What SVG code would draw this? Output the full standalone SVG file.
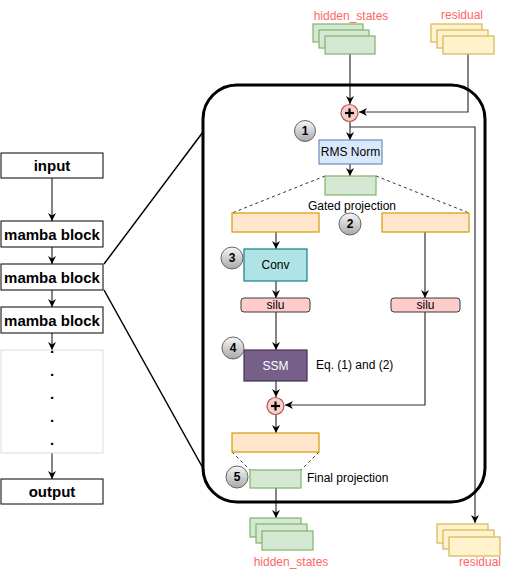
<svg xmlns="http://www.w3.org/2000/svg" width="516" height="579" viewBox="0 0 516 579">
<style>
text{font-family:"Liberation Sans",Arial,Helvetica,sans-serif;}
.lbl{font-size:15px;font-weight:bold;fill:#000;text-anchor:middle;dominant-baseline:central;}
.t12{font-size:12px;fill:#000;dominant-baseline:central;}
.mid{text-anchor:middle;}
.red{font-size:12px;fill:#ff6666;text-anchor:middle;dominant-baseline:central;}
.box{fill:#fff;stroke:#000;stroke-width:1;}
.conn{fill:none;stroke:#333;stroke-width:1.2;}
.dash{fill:none;stroke:#333;stroke-width:1;stroke-dasharray:3 3;}
.green{fill:#d5e8d4;stroke:#82b366;stroke-width:1.2;}
.yellow{fill:#fff2cc;stroke:#d6b656;stroke-width:1.2;}
.orange{fill:#ffe6cc;stroke:#d79b00;stroke-width:1.2;}
.silu{fill:#ffcccc;stroke:#36393d;stroke-width:1;}
.badge{fill:url(#bg);stroke:#666;stroke-width:1;}
.bnum{font-size:12px;font-weight:bold;fill:#000;text-anchor:middle;dominant-baseline:central;}
.plus{fill:#f8cecc;stroke:#b85450;stroke-width:1.2;}
.pl{stroke:#000;stroke-width:2.2;}
</style>
<defs>
<marker id="arr" viewBox="0 0 10 10" refX="10" refY="5" markerWidth="8" markerHeight="8" markerUnits="userSpaceOnUse" orient="auto">
<path d="M0,0 L10,5 L0,10 L3,5 z" fill="#000"/>
</marker>
<linearGradient id="bg" x1="0" y1="0" x2="0" y2="1">
<stop offset="0" stop-color="#f7f7f7"/>
<stop offset="1" stop-color="#a8a8a8"/>
</linearGradient>
</defs>

<g id="connectors">
<line class="conn" x1="52" y1="178" x2="52" y2="221" marker-end="url(#arr)"/>
<line class="conn" x1="52" y1="247" x2="52" y2="264" marker-end="url(#arr)"/>
<line class="conn" x1="52" y1="290" x2="52" y2="307" marker-end="url(#arr)"/>
<line class="conn" x1="52" y1="333" x2="52" y2="350" marker-end="url(#arr)"/>
<line class="conn" x1="52" y1="453" x2="52" y2="479" marker-end="url(#arr)"/>
<line stroke="#000" stroke-width="1.5" x1="104" y1="264" x2="203" y2="132"/>
<line stroke="#000" stroke-width="1.5" x1="104" y1="290" x2="204" y2="470"/>
<line class="conn" x1="350" y1="54" x2="350" y2="104" marker-end="url(#arr)"/>
<polyline class="conn" points="468,54 468,112 359,112" marker-end="url(#arr)"/>
<line class="conn" x1="350" y1="122" x2="350" y2="140" marker-end="url(#arr)"/>
<polyline class="conn" points="350,127 475,127 475,523" marker-end="url(#arr)"/>
<line class="conn" x1="350" y1="164" x2="350" y2="176" marker-end="url(#arr)"/>
<line class="dash" x1="325" y1="176" x2="232" y2="213"/>
<line class="dash" x1="376" y1="176" x2="469" y2="213"/>
<line class="conn" x1="276" y1="232" x2="276" y2="249" marker-end="url(#arr)"/>
<line class="conn" x1="276" y1="281" x2="276" y2="298" marker-end="url(#arr)"/>
<line class="conn" x1="276" y1="312" x2="276" y2="350" marker-end="url(#arr)"/>
<line class="conn" x1="276" y1="381" x2="276" y2="397" marker-end="url(#arr)"/>
<line class="conn" x1="425" y1="232" x2="425" y2="298" marker-end="url(#arr)"/>
<polyline class="conn" points="425,312 425,405 285,405" marker-end="url(#arr)"/>
<line class="conn" x1="276" y1="414" x2="276" y2="433" marker-end="url(#arr)"/>
<line class="dash" x1="232" y1="452" x2="250" y2="470"/>
<line class="dash" x1="319" y1="452" x2="301" y2="470"/>
<line class="conn" x1="276" y1="488" x2="276" y2="518" marker-end="url(#arr)"/>
</g>

<g id="input"><rect class="box" x="1" y="153" width="102" height="25"/><text class="lbl" x="52" y="165.5">input</text></g>
<g id="mamba1"><rect class="box" x="1" y="221" width="102" height="26"/><text class="lbl" x="52" y="234">mamba block</text></g>
<g id="mamba2"><rect class="box" x="1" y="264" width="102" height="26"/><text class="lbl" x="52" y="277">mamba block</text></g>
<g id="mamba3"><rect class="box" x="1" y="307" width="102" height="26"/><text class="lbl" x="52" y="320">mamba block</text></g>
<g id="dots">
<rect x="1" y="350" width="102" height="103" fill="#fff" stroke="#dddddd" stroke-width="1"/>
<text class="lbl" x="52" y="347">.</text>
<text class="lbl" x="52" y="370">.</text>
<text class="lbl" x="52" y="393">.</text>
<text class="lbl" x="52" y="416">.</text>
<text class="lbl" x="52" y="439">.</text>
</g>
<g id="output"><rect class="box" x="1" y="479" width="102" height="25"/><text class="lbl" x="52" y="491.5">output</text></g>

<g id="mamba-detail"><rect x="203" y="85" width="282" height="417" rx="34" ry="34" fill="none" stroke="#000" stroke-width="3"/></g>

<g id="hidden-in">
<text class="red" x="351" y="16">hidden_states</text>
<rect class="green" x="313" y="24" width="50" height="18"/>
<rect class="green" x="319" y="30" width="50" height="18"/>
<rect class="green" x="325" y="36" width="50" height="18"/>
</g>
<g id="residual-in">
<text class="red" x="462" y="15">residual</text>
<rect class="yellow" x="431" y="24" width="51" height="18"/>
<rect class="yellow" x="437" y="30" width="51" height="18"/>
<rect class="yellow" x="443" y="36" width="51" height="18"/>
</g>

<g id="plus1"><circle class="plus" cx="349.5" cy="113" r="8.5"/><line class="pl" x1="345" y1="113" x2="354" y2="113"/><line class="pl" x1="349.5" y1="108.5" x2="349.5" y2="117.5"/></g>
<g id="badge1"><circle class="badge" cx="305" cy="131" r="10.5"/><text class="bnum" x="305" y="131">1</text></g>
<g id="rmsnorm"><rect x="319" y="140" width="63" height="24" fill="#dae8fc" stroke="#6c8ebf" stroke-width="1.2"/><text class="t12 mid" x="350.5" y="152">RMS Norm</text></g>
<g id="gated"><rect class="green" x="325" y="176" width="51" height="19"/><text class="t12 mid" x="352" y="206">Gated projection</text></g>
<g id="orange-left"><rect class="orange" x="232" y="213" width="87" height="19"/></g>
<g id="orange-right"><rect class="orange" x="382" y="213" width="87" height="19"/></g>
<g id="badge2"><circle class="badge" cx="350" cy="224" r="11"/><text class="bnum" x="350" y="224">2</text></g>
<g id="conv"><rect x="244" y="249" width="63" height="32" fill="#b0e3e6" stroke="#0e8088" stroke-width="1.2"/><text class="t12 mid" x="275.5" y="265">Conv</text></g>
<g id="badge3"><circle class="badge" cx="232" cy="258" r="11"/><text class="bnum" x="232" y="258">3</text></g>
<g id="silu-left"><rect class="silu" x="241" y="298" width="69" height="14" rx="3"/><text class="t12 mid" x="275.5" y="305">silu</text></g>
<g id="silu-right"><rect class="silu" x="391" y="298" width="69" height="14" rx="3"/><text class="t12 mid" x="425.5" y="305">silu</text></g>
<g id="ssm"><rect x="244" y="350" width="63" height="31" fill="#76608a" stroke="#432d57" stroke-width="1.2"/><text class="t12 mid" x="275.5" y="365.5" style="fill:#fff">SSM</text><text class="t12" x="316" y="365">Eq. (1) and (2)</text></g>
<g id="badge4"><circle class="badge" cx="233" cy="348" r="11"/><text class="bnum" x="233" y="348">4</text></g>
<g id="plus2"><circle class="plus" cx="275.5" cy="406" r="8.5"/><line class="pl" x1="271" y1="406" x2="280" y2="406"/><line class="pl" x1="275.5" y1="401.5" x2="275.5" y2="410.5"/></g>
<g id="orange-bottom"><rect class="orange" x="232" y="433" width="87" height="19"/></g>
<g id="final"><rect class="green" x="250" y="470" width="51" height="18"/><text class="t12" x="307" y="478">Final projection</text></g>
<g id="badge5"><circle class="badge" cx="237" cy="477" r="11"/><text class="bnum" x="237" y="477">5</text></g>

<g id="hidden-out">
<rect class="green" x="250" y="518" width="51" height="19"/>
<rect class="green" x="256" y="524" width="51" height="19"/>
<rect class="green" x="262" y="531" width="51" height="19"/>
<text class="red" x="291" y="562">hidden_states</text>
</g>
<g id="residual-out">
<rect class="yellow" x="437" y="524" width="51" height="19"/>
<rect class="yellow" x="443" y="530" width="51" height="19"/>
<rect class="yellow" x="449" y="537" width="51" height="19"/>
<text class="red" x="480" y="562">residual</text>
</g>
</svg>
